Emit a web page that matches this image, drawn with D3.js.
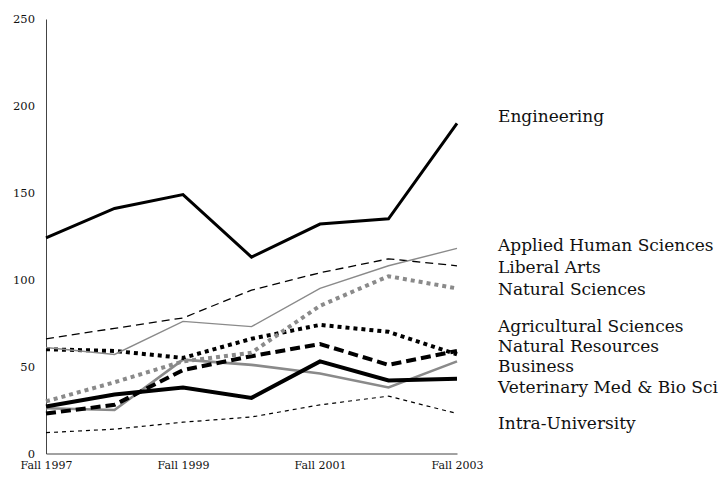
<!DOCTYPE html>
<html><head><meta charset="utf-8">
<script src="https://cdn.jsdelivr.net/npm/d3@7"></script>
<style>body{margin:0;background:#fff}svg{display:block}</style>
</head><body>
<script>
const years = ["Fall 1997","Fall 1998","Fall 1999","Fall 2000","Fall 2001","Fall 2002","Fall 2003"];
const xTickLabels = ["Fall 1997","Fall 1999","Fall 2001","Fall 2003"];
const yTicks = [0,50,100,150,200,250];
const seriesNames = ["Engineering","Applied Human Sciences","Liberal Arts","Natural Sciences","Agricultural Sciences","Natural Resources","Business","Veterinary Med & Bio Sci","Intra-University"];
const engineering = [124,141,149,113,132,135,190];
const appliedHuman = [61,57,76,73,95,108,118];
const liberalArts = [66,72,78,94,104,112,108];
const naturalSciences = [30,41,53,58,85,102,95];
const agricultural = [60,59,55,66,74,70,57];
const naturalResources = [23,28,48,56,63,51,59];
const business = [26,25,54,51,46,38,53];
const veterinary = [27,34,38,32,53,42,43];
const intraUniversity = [12,14,18,21,28,33,23];
const labelY = [116,245,267,289,326,346,366,387,423];

const values = [engineering,appliedHuman,liberalArts,naturalSciences,agricultural,naturalResources,business,veterinary,intraUniversity];
const styles = [
  {c:"#000",w:3,d:null},
  {c:"#8a8a8a",w:1.4,d:null},
  {c:"#000",w:1.3,d:"8,5"},
  {c:"#8a8a8a",w:4,d:"4,4"},
  {c:"#000",w:4,d:"4,4"},
  {c:"#000",w:4,d:"10,5"},
  {c:"#8a8a8a",w:2.6,d:null},
  {c:"#000",w:4,d:null},
  {c:"#000",w:1.2,d:"4,4"}
];
const drawOrder = [8,6,7,5,4,3,2,1,0];

const W=723,H=478;
const svg=d3.select("body").append("svg").attr("width",W).attr("height",H);
const x=d3.scalePoint().domain(years).range([46,457]);
const y=d3.scaleLinear().domain([0,250]).range([453.5,19]);
const font="'DejaVu Serif', serif";

// axes
const ya=svg.append("g").attr("transform","translate(46,0)")
  .call(d3.axisLeft(y).tickValues(yTicks).tickSize(0).tickPadding(11));
ya.select(".domain").attr("stroke","#444").attr("stroke-width",1);
ya.selectAll("text").attr("font-family",font).attr("font-size",11.5).attr("fill","#111");
const xa=svg.append("g").attr("transform","translate(0,453.5)")
  .call(d3.axisBottom(x).tickValues(xTickLabels).tickSize(0).tickPadding(8));
xa.select(".domain").attr("stroke","#444").attr("stroke-width",1);
xa.selectAll("text").attr("font-family",font).attr("font-size",11).attr("fill","#111");

const line=d3.line().x((d,i)=>x(years[i])).y(d=>y(d));
drawOrder.forEach(k=>{
  const s=styles[k];
  svg.append("path").datum(values[k]).attr("d",line)
    .attr("fill","none").attr("stroke",s.c).attr("stroke-width",s.w)
    .attr("stroke-dasharray",s.d).attr("stroke-linejoin","miter");
});

svg.append("g").selectAll("text").data(seriesNames).join("text")
  .attr("x",498).attr("y",(d,i)=>labelY[i]).attr("dy","0.35em")
  .attr("font-family",font).attr("font-size",17).attr("fill","#111")
  .text(d=>d);
</script>
</body></html>
